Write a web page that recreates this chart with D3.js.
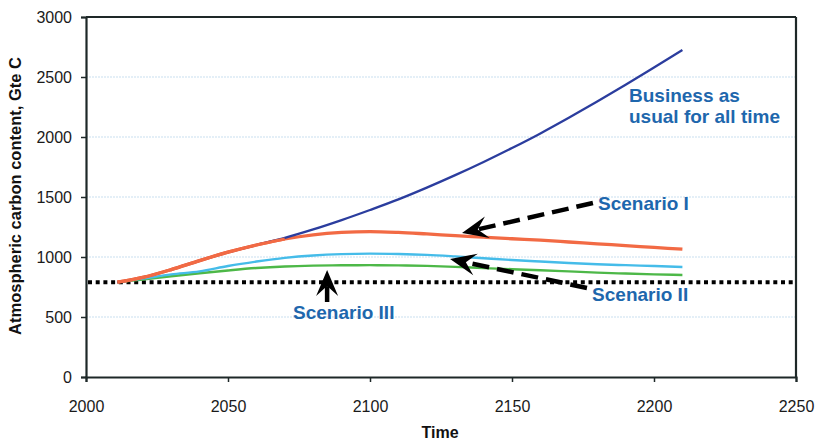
<!DOCTYPE html>
<html><head><meta charset="utf-8">
<script src="https://cdn.jsdelivr.net/npm/d3@7"></script>
<style>body{margin:0;background:#fff}svg{display:block}</style>
</head><body>
<svg id="c" width="816" height="440"></svg>
<script>
const years = [2011,2020,2030,2040,2050,2060,2070,2080,2090,2100,2110,2120,2130,2140,2150,2160,2170,2180,2190,2200,2210];
const businessAsUsual = [790,830,895,970,1040,1100,1160,1230,1308,1392,1480,1578,1682,1792,1908,2030,2160,2295,2435,2580,2725];
const scenarioI   = [790,830,895,970,1040,1100,1150,1185,1205,1212,1205,1192,1178,1165,1152,1140,1125,1110,1095,1080,1065];
const scenarioII  = [790,820,855,880,925,962,993,1013,1024,1028,1025,1018,1005,990,975,962,950,940,932,925,917];
const scenarioIII = [790,812,840,865,888,908,921,928,931,932,930,926,918,908,898,890,880,870,862,855,850];
const threshold = 790;
const xTicks = [2000,2050,2100,2150,2200,2250];
const yTicks = [0,500,1000,1500,2000,2500,3000];
const gridValues = [500,1000,1500,2000,2500];

const svg = d3.select("#c");
const W=816,H=440, m={l:86,r:20,t:17,b:63};
const x = d3.scaleLinear().domain([2000,2250]).range([m.l,W-m.r]);
const y = d3.scaleLinear().domain([0,3000]).range([H-m.b,m.t]);

// grid
svg.append("g").selectAll("line").data(gridValues).join("line")
  .attr("x1",x(2000)).attr("x2",x(2250)).attr("y1",d=>y(d)).attr("y2",d=>y(d))
  .attr("stroke","#c9dff0").attr("stroke-width",1.2).attr("stroke-dasharray","2,1");

// axes
const fontTick = "Liberation Sans, Arial, sans-serif";
const ax = svg.append("g").attr("transform",`translate(0,${y(0)})`)
  .call(d3.axisBottom(x).tickValues(xTicks).tickFormat(d3.format("d")).tickSize(5).tickPadding(19));
const ay = svg.append("g").attr("transform",`translate(${x(2000)},0)`)
  .call(d3.axisLeft(y).tickValues(yTicks).tickFormat(d3.format("d")).tickSize(5).tickPadding(9));
[ax,ay].forEach(a=>{
  a.select(".domain").attr("stroke","#1e2828").attr("stroke-width",2.2);
  a.selectAll(".tick line").attr("stroke","#1e2828").attr("stroke-width",1.5);
  a.selectAll("text").attr("font-family",fontTick).attr("font-size",16).attr("fill","#1a1a1a");
});
// top & right frame
svg.append("line").attr("x1",x(2000)).attr("x2",x(2250)).attr("y1",y(3000)).attr("y2",y(3000))
  .attr("stroke","#1e2828").attr("stroke-width",2.2);
svg.append("line").attr("x1",x(2250)).attr("x2",x(2250)).attr("y1",y(3000)).attr("y2",y(0))
  .attr("stroke","#1e2828").attr("stroke-width",2.2);

// threshold dotted
svg.append("line").attr("x1",x(2000)+2).attr("x2",x(2250)).attr("y1",y(threshold)).attr("y2",y(threshold))
  .attr("stroke","#000").attr("stroke-width",4).attr("stroke-dasharray","4,3.7");

// series
const line = d3.line().x((d,i)=>x(years[i])).y(d=>y(d)).curve(d3.curveMonotoneX);
const series = [
  {v:scenarioIII, c:"#4db848", w:2.4},
  {v:scenarioII, c:"#45bce9", w:2.4},
  {v:scenarioI, c:"#f26a44", w:3.3},
  {v:businessAsUsual, c:"#2b3d9e", w:2.3}
];
series.forEach(s=>svg.append("path").attr("d",line(s.v)).attr("fill","none")
  .attr("stroke",s.c).attr("stroke-width",s.w).attr("stroke-linejoin","round"));
// orange drawn above blue where they coincide
svg.append("path").attr("d",line(scenarioI.slice(0,7))).attr("fill","none")
  .attr("stroke","#f26a44").attr("stroke-width",3.3);

// arrows
function arrow(from,to,dashed){
  const x1=x(from[0]),y1=y(from[1]),x2=x(to[0]),y2=y(to[1]);
  const ang=Math.atan2(y2-y1,x2-x1), L=26, Wd=22, notch=0.62;
  const g=svg.append("g");
  g.append("line").attr("x1",x1).attr("y1",y1)
    .attr("x2",x2-Math.cos(ang)*L*notch).attr("y2",y2-Math.sin(ang)*L*notch)
    .attr("stroke","#000").attr("stroke-width",4.5).attr("stroke-dasharray",dashed?"17,8":null);
  const p=d3.path(); p.moveTo(0,0); p.lineTo(-L,-Wd/2); p.lineTo(-L*notch,0); p.lineTo(-L,Wd/2); p.closePath();
  g.append("path").attr("d",p.toString()).attr("fill","#000")
    .attr("transform",`translate(${x2},${y2}) rotate(${ang*180/Math.PI})`);
}
arrow([2178.5,1450],[2132.4,1200],true);
arrow([2176.4,742],[2128.2,983],true);
arrow([2084.9,625],[2084.9,892],false);

// annotation texts
const txtFont="Liberation Sans, Arial, sans-serif", txtCol="#1e67ad";
const notes=[
  {t:"Business as",p:[2191.2,2292]},
  {t:"usual for all time",p:[2191.2,2117]},
  {t:"Scenario I",p:[2180.3,1392]},
  {t:"Scenario II",p:[2178.2,633]},
  {t:"Scenario III",p:[2072.9,483]}
];
svg.append("g").selectAll("text").data(notes).join("text")
  .attr("x",d=>x(d.p[0])).attr("y",d=>y(d.p[1])).text(d=>d.t)
  .attr("font-family",txtFont).attr("font-weight","bold").attr("font-size",19).attr("fill",txtCol);

// axis titles
svg.append("text").attr("x",(x(2000)+x(2250))/2-1).attr("y",438).attr("text-anchor","middle")
  .attr("font-family","Liberation Sans Narrow, Arial Narrow, sans-serif").attr("font-weight","bold")
  .attr("font-size",16).attr("fill","#111").text("Time");
svg.append("text").attr("transform",`translate(21,${(y(0)+y(3000))/2-1}) rotate(-90)`).attr("text-anchor","middle")
  .attr("font-family","Liberation Sans Narrow, Arial Narrow, sans-serif").attr("font-weight","bold")
  .attr("font-size",16.5).attr("fill","#111").text("Atmospheric carbon content, Gte C");
</script>
</body></html>
